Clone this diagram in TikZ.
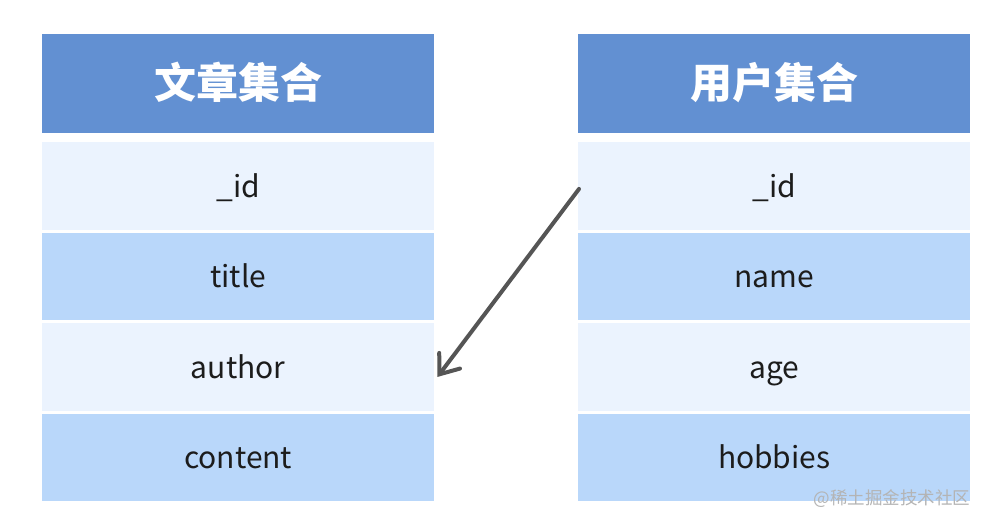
\documentclass[tikz,border=0pt]{standalone}
\usepackage{fontspec}
\setmainfont{Noto Sans CJK SC}
\usetikzlibrary{arrows.meta,calc}
\definecolor{hdr}{HTML}{6290D2}
\definecolor{rowA}{HTML}{EBF3FE}
\definecolor{rowB}{HTML}{B9D7FA}
\definecolor{txt}{HTML}{1C1C1C}
\definecolor{arr}{HTML}{555555}
\definecolor{wm}{HTML}{B4B4B4}
\begin{document}
\begin{tikzpicture}[x=1pt,y=-1pt,
  cell/.style={anchor=north west, minimum width=392pt, minimum height=87.5pt, inner sep=0pt, text=txt, text height=26pt, text depth=3pt, font=\fontsize{30}{34}\selectfont},
  light/.style={cell, fill=rowA},
  dark/.style={cell, fill=rowB},
  hdrcell/.style={cell, fill=hdr, minimum height=99.5pt, text=white, text height=34pt, text depth=4pt, font=\fontsize{42}{48}\selectfont\bfseries},
  link/.style={draw=arr, line width=4pt, line cap=round, -{Straight Barb[length=17pt,width=26pt,line cap=round]}},
  wmtext/.style={text=wm, font=\fontsize{17.5}{20}\selectfont, inner sep=0pt}]
\useasboundingbox (0,0) rectangle (990,526);
\fill[white] (0,0) rectangle (990,526);
% left table
\node[hdrcell] (ah) at (42,33.5) {文章集合};
\node[light] (a1) at (42,142) {\_id};
\node[dark]  (a2) at (42,232.5) {title};
\node[light] (a3) at (42,323) {author};
\node[dark]  (a4) at (42,413.5) {content};
% right table
\node[hdrcell] (uh) at (578,33.5) {用户集合};
\node[light] (u1) at (578,142) {\_id};
\node[dark]  (u2) at (578,232.5) {name};
\node[light] (u3) at (578,323) {age};
\node[dark]  (u4) at (578,413.5) {hobbies};
% arrow
\coordinate (s) at ($(u1.west)+(1,3)$);
\coordinate (e) at ($(a3.east)+(3,10)$);
\draw[link] (s) -- (e);
% watermark
\node[wmtext] (w) at (892,499) {@稀土掘金技术社区};
\end{tikzpicture}
\end{document}
